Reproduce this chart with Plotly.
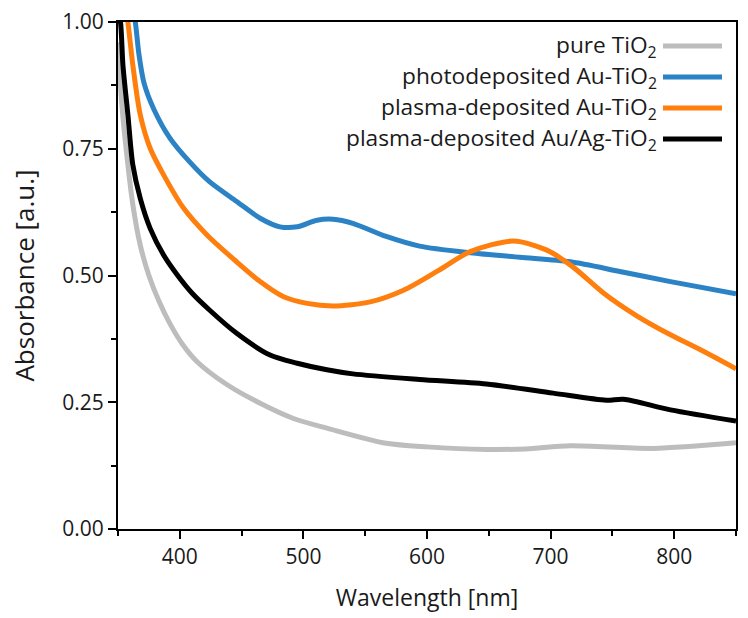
import plotly.graph_objects as go

# ---- data ----
wl_pure = [350, 353, 357, 362, 368, 375, 383, 392, 402, 414, 438, 465, 492, 519, 567, 600, 648, 680, 716, 783, 850]
ab_pure = [0.96, 0.84, 0.74, 0.64, 0.56, 0.50, 0.45, 0.405, 0.365, 0.330, 0.285, 0.248, 0.218, 0.199, 0.169, 0.162, 0.157, 0.158, 0.164, 0.159, 0.170]

wl_photo = [361, 364, 367, 371, 379, 392, 408, 424, 446, 465, 481, 495, 511, 524, 540, 567, 594, 635, 675, 716, 756, 797, 850]
ab_photo = [1.04, 1.0, 0.935, 0.880, 0.828, 0.771, 0.724, 0.685, 0.646, 0.613, 0.596, 0.596, 0.609, 0.611, 0.603, 0.577, 0.558, 0.545, 0.536, 0.527, 0.508, 0.488, 0.464]

wl_plasma = [355, 358, 362, 368, 376, 387, 403, 422, 446, 465, 484, 503, 524, 554, 581, 608, 635, 670, 697, 718, 743, 770, 797, 824, 850]
ab_plasma = [1.05, 1.0, 0.915, 0.817, 0.751, 0.698, 0.633, 0.580, 0.527, 0.488, 0.458, 0.445, 0.440, 0.448, 0.471, 0.508, 0.547, 0.568, 0.550, 0.517, 0.465, 0.420, 0.383, 0.350, 0.316]

wl_auag = [350, 352, 354, 358, 362, 368, 376, 387, 398, 410, 424, 446, 473, 495, 519, 540, 594, 648, 702, 745, 759, 797, 850]
ab_auag = [1.02, 1.0, 0.915, 0.817, 0.718, 0.652, 0.593, 0.540, 0.501, 0.465, 0.432, 0.386, 0.343, 0.327, 0.314, 0.306, 0.295, 0.286, 0.268, 0.254, 0.256, 0.235, 0.213]

series_names = ["pure TiO<sub>2</sub>", "photodeposited Au-TiO<sub>2</sub>",
                "plasma-deposited Au-TiO<sub>2</sub>", "plasma-deposited Au/Ag-TiO<sub>2</sub>"]
series_colors = ["#bdbdbd", "#2b83c6", "#ff7f0e", "#000000"]

x_ticks = [400, 500, 600, 700, 800]
y_ticks = [0.00, 0.25, 0.50, 0.75, 1.00]

FONT = "Open Sans"
TXT = "#1a1a1a"

fig = go.Figure()
for wl, ab, name, col in zip([wl_pure, wl_photo, wl_plasma, wl_auag],
                             [ab_pure, ab_photo, ab_plasma, ab_auag],
                             series_names, series_colors):
    fig.add_trace(go.Scatter(x=wl, y=ab, mode="lines", name=name,
                             line=dict(color=col, width=5, shape="spline", smoothing=0.8),
                             showlegend=False))

# custom legend (text left, line sample right)
L, R, T, B = 118, 12, 22, 89
W, H = 748 - L - R, 618 - T - B
rows_px = [46, 77, 108, 139]
for name, col, py in zip(series_names, series_colors, rows_px):
    yp = (618 - B - py) / H
    fig.add_shape(type="line", xref="paper", yref="paper",
                  x0=(663 - L) / W, x1=(722 - L) / W, y0=yp, y1=yp,
                  line=dict(color=col, width=5))
    fig.add_annotation(xref="paper", yref="paper", x=(659 - L) / W, y=yp,
                       xanchor="right", yanchor="middle", text=name, showarrow=False,
                       font=dict(family=FONT, size=22.7, color=TXT))

axis_common = dict(showline=True, linecolor="black", linewidth=2, mirror=True,
                   ticks="outside", ticklen=8, tickwidth=2, tickcolor="black",
                   showgrid=False, zeroline=False, automargin=False,
                   tickfont=dict(family=FONT, size=21, color=TXT))

fig.update_xaxes(range=[350, 850], tickvals=x_ticks,
                 minor=dict(dtick=50, tick0=350, ticks="outside", ticklen=5, tickwidth=2, tickcolor="black"),
                 title=dict(text="Wavelength [nm]", font=dict(family=FONT, size=23, color=TXT), standoff=21),
                 **axis_common)
fig.update_yaxes(range=[0, 1], tickvals=y_ticks, tickformat=".2f",
                 minor=dict(dtick=0.125, tick0=0, ticks="outside", ticklen=5, tickwidth=2, tickcolor="black"),
                 title=dict(text="Absorbance [a.u.]", font=dict(family=FONT, size=26, color=TXT), standoff=20),
                 **axis_common)

fig.update_layout(width=748, height=618, margin=dict(l=L, r=R, t=T, b=B),
                  plot_bgcolor="white", paper_bgcolor="white",
                  font=dict(family=FONT))

fig.write_html("out.html", config={"displayModeBar": False},
               post_script="document.body.style.margin='0';")
